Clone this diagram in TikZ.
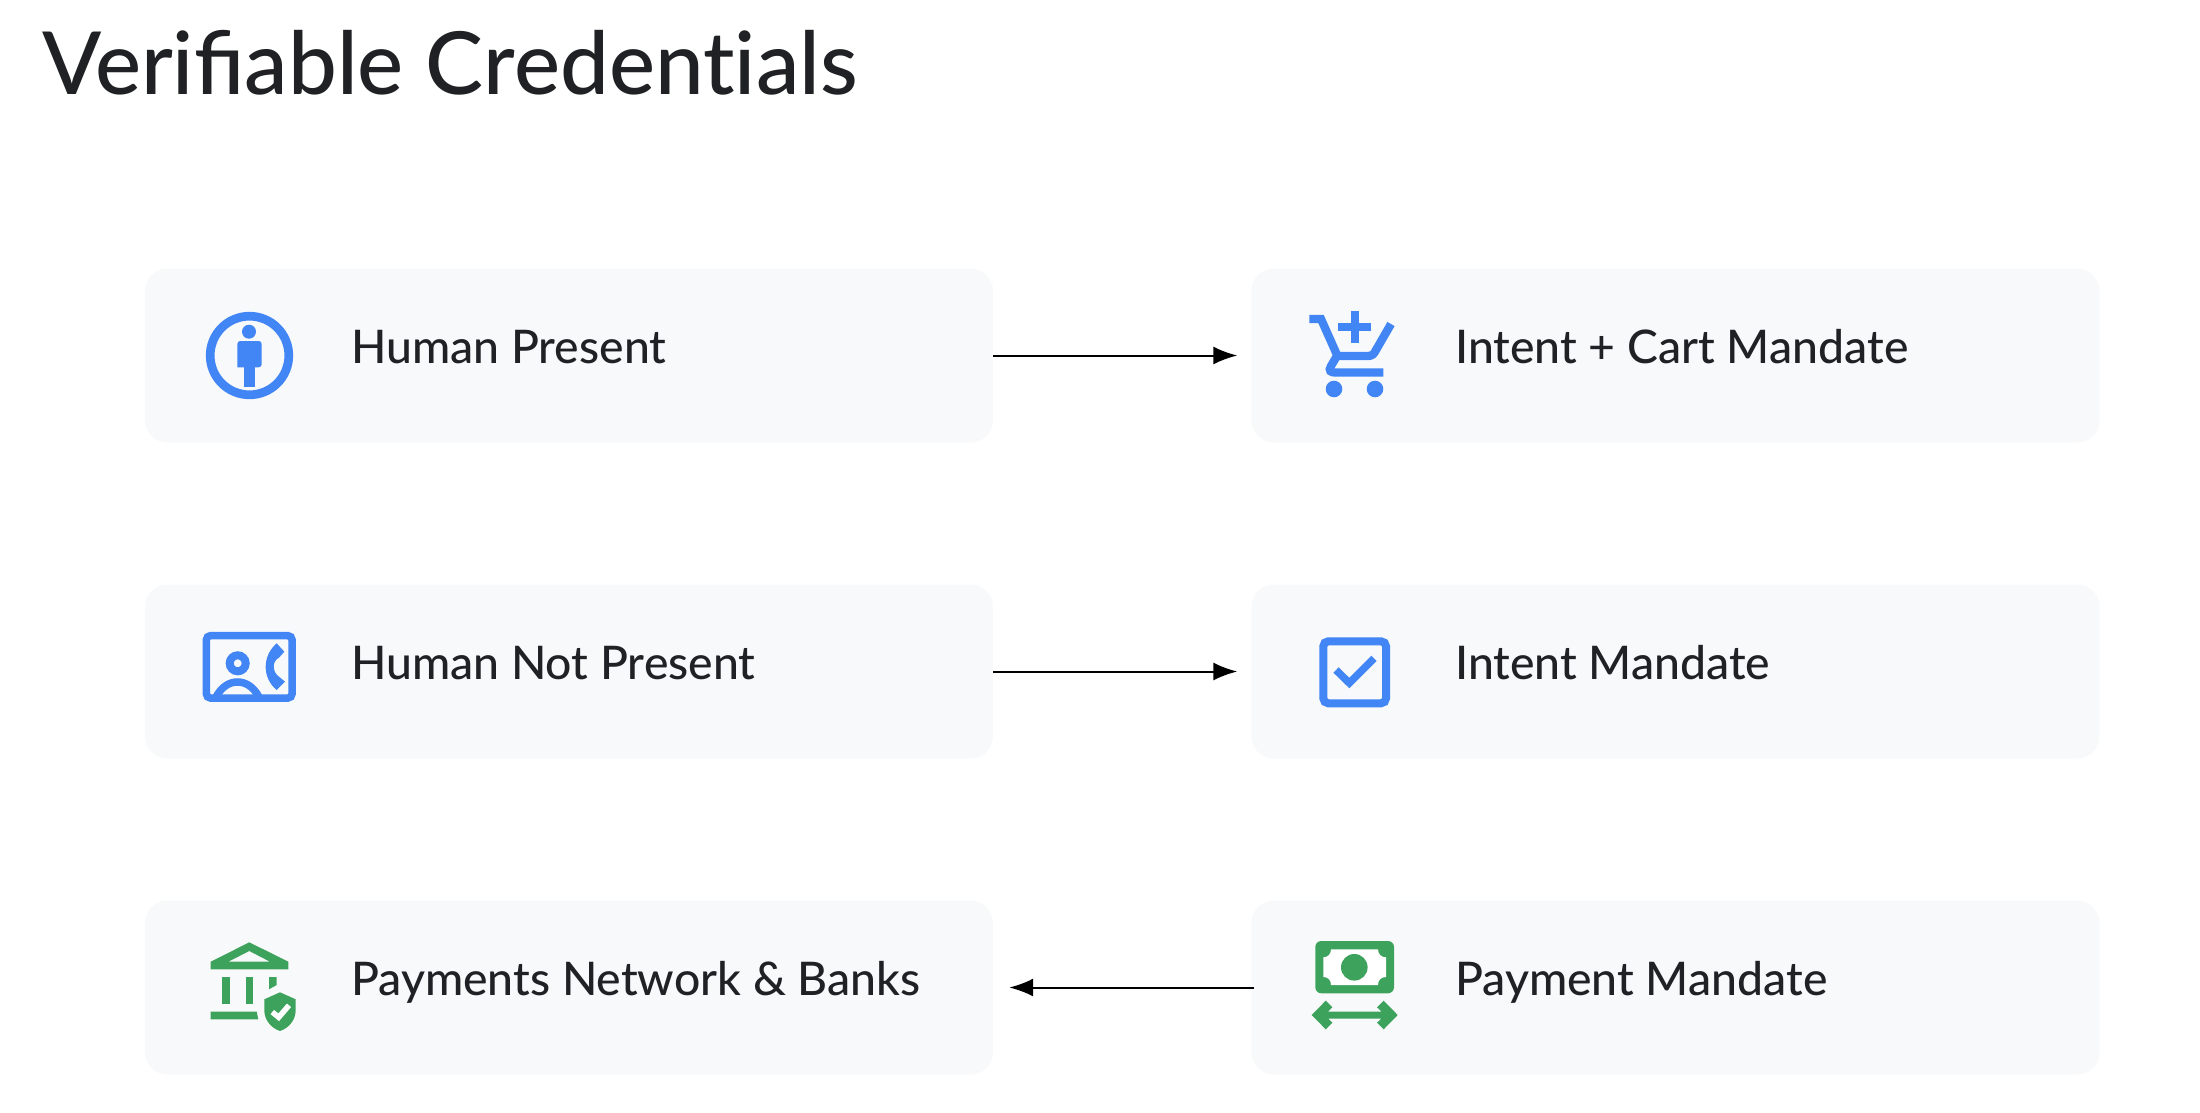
\documentclass[tikz,border=0pt]{standalone}
\usepackage{fontspec}
\setmainfont{Lato Medium}
\usetikzlibrary{arrows.meta}
\definecolor{cardgray}{HTML}{F8F9FA}
\definecolor{inkgray}{HTML}{202124}
\definecolor{gblue}{HTML}{4285F4}
\definecolor{ggreen}{HTML}{3DA35C}
\tikzset{
  card/.style={fill=cardgray,rectangle,rounded corners=22pt,minimum width=848pt,minimum height=174pt,inner sep=0pt},
  caption/.style={anchor=base west,inner sep=0pt,text=inkgray,font=\fontsize{46.3}{54}\selectfont},
  link/.style={line width=2pt,-{Latex[length=24pt,width=18pt]}},
}
\begin{document}
\begin{tikzpicture}[x=1pt,y=-1pt,node distance=316pt]
    \useasboundingbox (0,0) rectangle (2200,1113);
    \node [anchor=base west,inner sep=0pt,text=inkgray,font=\fontsize{87}{96}\selectfont] (title) at (42,95) {Verifiable Credent\kern0pt ials};

    \node [card] (1) at (569,355.5) {};
    \node [card,below of=1] (2) {};
    \node [card,below of=2] (3) {};
    \node [card] (4) at (1675.5,355.5) {};
    \node [card,below of=4] (5) {};
    \node [card,below of=5] (6) {};

    \node [caption] (1t) at (351,363) {Human Present};
    \node [caption] (2t) at (351,679) {Human Not Present};
    \node [caption] (3t) at (351,995) {Payments Network \& Banks};
    \node [caption] (4t) at (1455,363) {Intent + Cart Mandate};
    \node [caption] (5t) at (1455,679) {Intent Mandate};
    \node [caption] (6t) at (1455,995) {Payment Mandate};

    \draw [link,shorten >=14pt] (1) -- (4);
    \draw [link,shorten >=14pt] (2) -- (5);
    \draw [link,shorten <=-3pt,shorten >=16pt] (6) -- (3);

    % person in a ring
    \draw [gblue,line width=8.7pt] (249.5,355.5) circle (39.3);
    \fill [gblue] (249,331.7) circle (7);
    \fill [gblue,rounded corners=3pt] (237.3,367.3) -- (237.3,341) -- (261.7,341) -- (261.7,367.3) [sharp corners] -- cycle;
    \fill [gblue] (243.7,365) rectangle (255,386.7);

    % contact card with phone
    \draw [gblue,line width=7.5pt,rounded corners=4pt] (206.4,635.7) rectangle (292,698);
    \draw [gblue,line width=8pt] (237.7,663.3) circle (8);
    \draw [gblue,line width=7.5pt] (216,697) .. controls (222,686) and (230,682) .. (237.5,682) .. controls (245,682) and (253,686) .. (259,697);
    \fill [gblue] (276.7,643.3) -- (284.3,651.7) -- (279,657.7) .. controls (272,661) and (272,672) .. (279,676.7) -- (285,681.7) -- (276.7,690) .. controls (262,678) and (262,656) .. cycle;

    % bank with shield
    \fill [ggreen,even odd rule] (249.3,942.3) -- (288.3,961.7) -- (288.3,969.3) -- (210.7,969.3) -- (210.7,961.7) -- cycle
      (249.3,951) -- (270,961.7) -- (228.3,961.7) -- cycle;
    \fill [ggreen] (222.3,977) rectangle (230,1004);
    \fill [ggreen] (245.7,977) rectangle (253.3,1004);
    \fill [ggreen] (269,977) -- (276.7,977) -- (276.7,985) -- (269,989.3) -- cycle;
    \fill [ggreen] (210.7,1011.7) -- (256.7,1011.7) -- (258.3,1019.3) -- (210.7,1019.3) -- cycle;
    \fill [ggreen] (280,992.3) -- (295.7,999.3) -- (295.7,1010) .. controls (295.7,1020) and (289,1028) .. (280,1031) .. controls (271,1028) and (264.3,1020) .. (264.3,1010) -- (264.3,999.3) -- cycle;
    \draw [white,line width=5.5pt] (272.3,1012) -- (278.7,1017.3) -- (289,1005.3);

    % cart with plus
    \draw [gblue,line width=8.3pt] (1309.3,319) -- (1321,319) -- (1337.5,356) -- (1368,356) .. controls (1372,356) and (1374,354) .. (1376,350) -- (1391,324);
    \draw [gblue,line width=8.3pt] (1337.5,355) -- (1331,366) .. controls (1328,371) and (1331,372.5) .. (1335,372.5) -- (1383.3,372.5);
    \fill [gblue] (1334,389) circle (8.3);
    \fill [gblue] (1375,389) circle (8.3);
    \draw [gblue,line width=8pt] (1354.7,311) -- (1354.7,343.3) (1338.3,327.3) -- (1371,327.3);

    % checked box
    \draw [gblue,line width=8pt,rounded corners=5pt] (1323.3,641.3) rectangle (1386,703.3);
    \draw [gblue,line width=7.5pt] (1336,670) -- (1349.3,683) -- (1374,658.3);

    % banknote with double arrow
    \fill [ggreen,rounded corners=6pt] (1315.3,941) rectangle (1394,993.3);
    \fill [white] (1331,949.3) -- (1378,949.3) .. controls (1378,954) and (1381,957.3) .. (1386,957.3) -- (1386,977) .. controls (1381,977) and (1378,980) .. (1378,985) -- (1331,985) .. controls (1331,980) and (1328,977) .. (1323.3,977) -- (1323.3,957.3) .. controls (1328,957.3) and (1331,954) .. cycle;
    \fill [ggreen] (1354.3,967.3) circle (13.3);
    \fill [ggreen] (1311.7,1015) -- (1325.7,1000.7) -- (1332.3,1007.3) -- (1328,1011.5) -- (1381.4,1011.5) -- (1377,1007.3) -- (1383.7,1000.7) -- (1397.7,1015) -- (1383.7,1029.3) -- (1377,1022.7) -- (1381.4,1018.5) -- (1328,1018.5) -- (1332.3,1022.7) -- (1325.7,1029.3) -- cycle;
\end{tikzpicture}
\end{document}
